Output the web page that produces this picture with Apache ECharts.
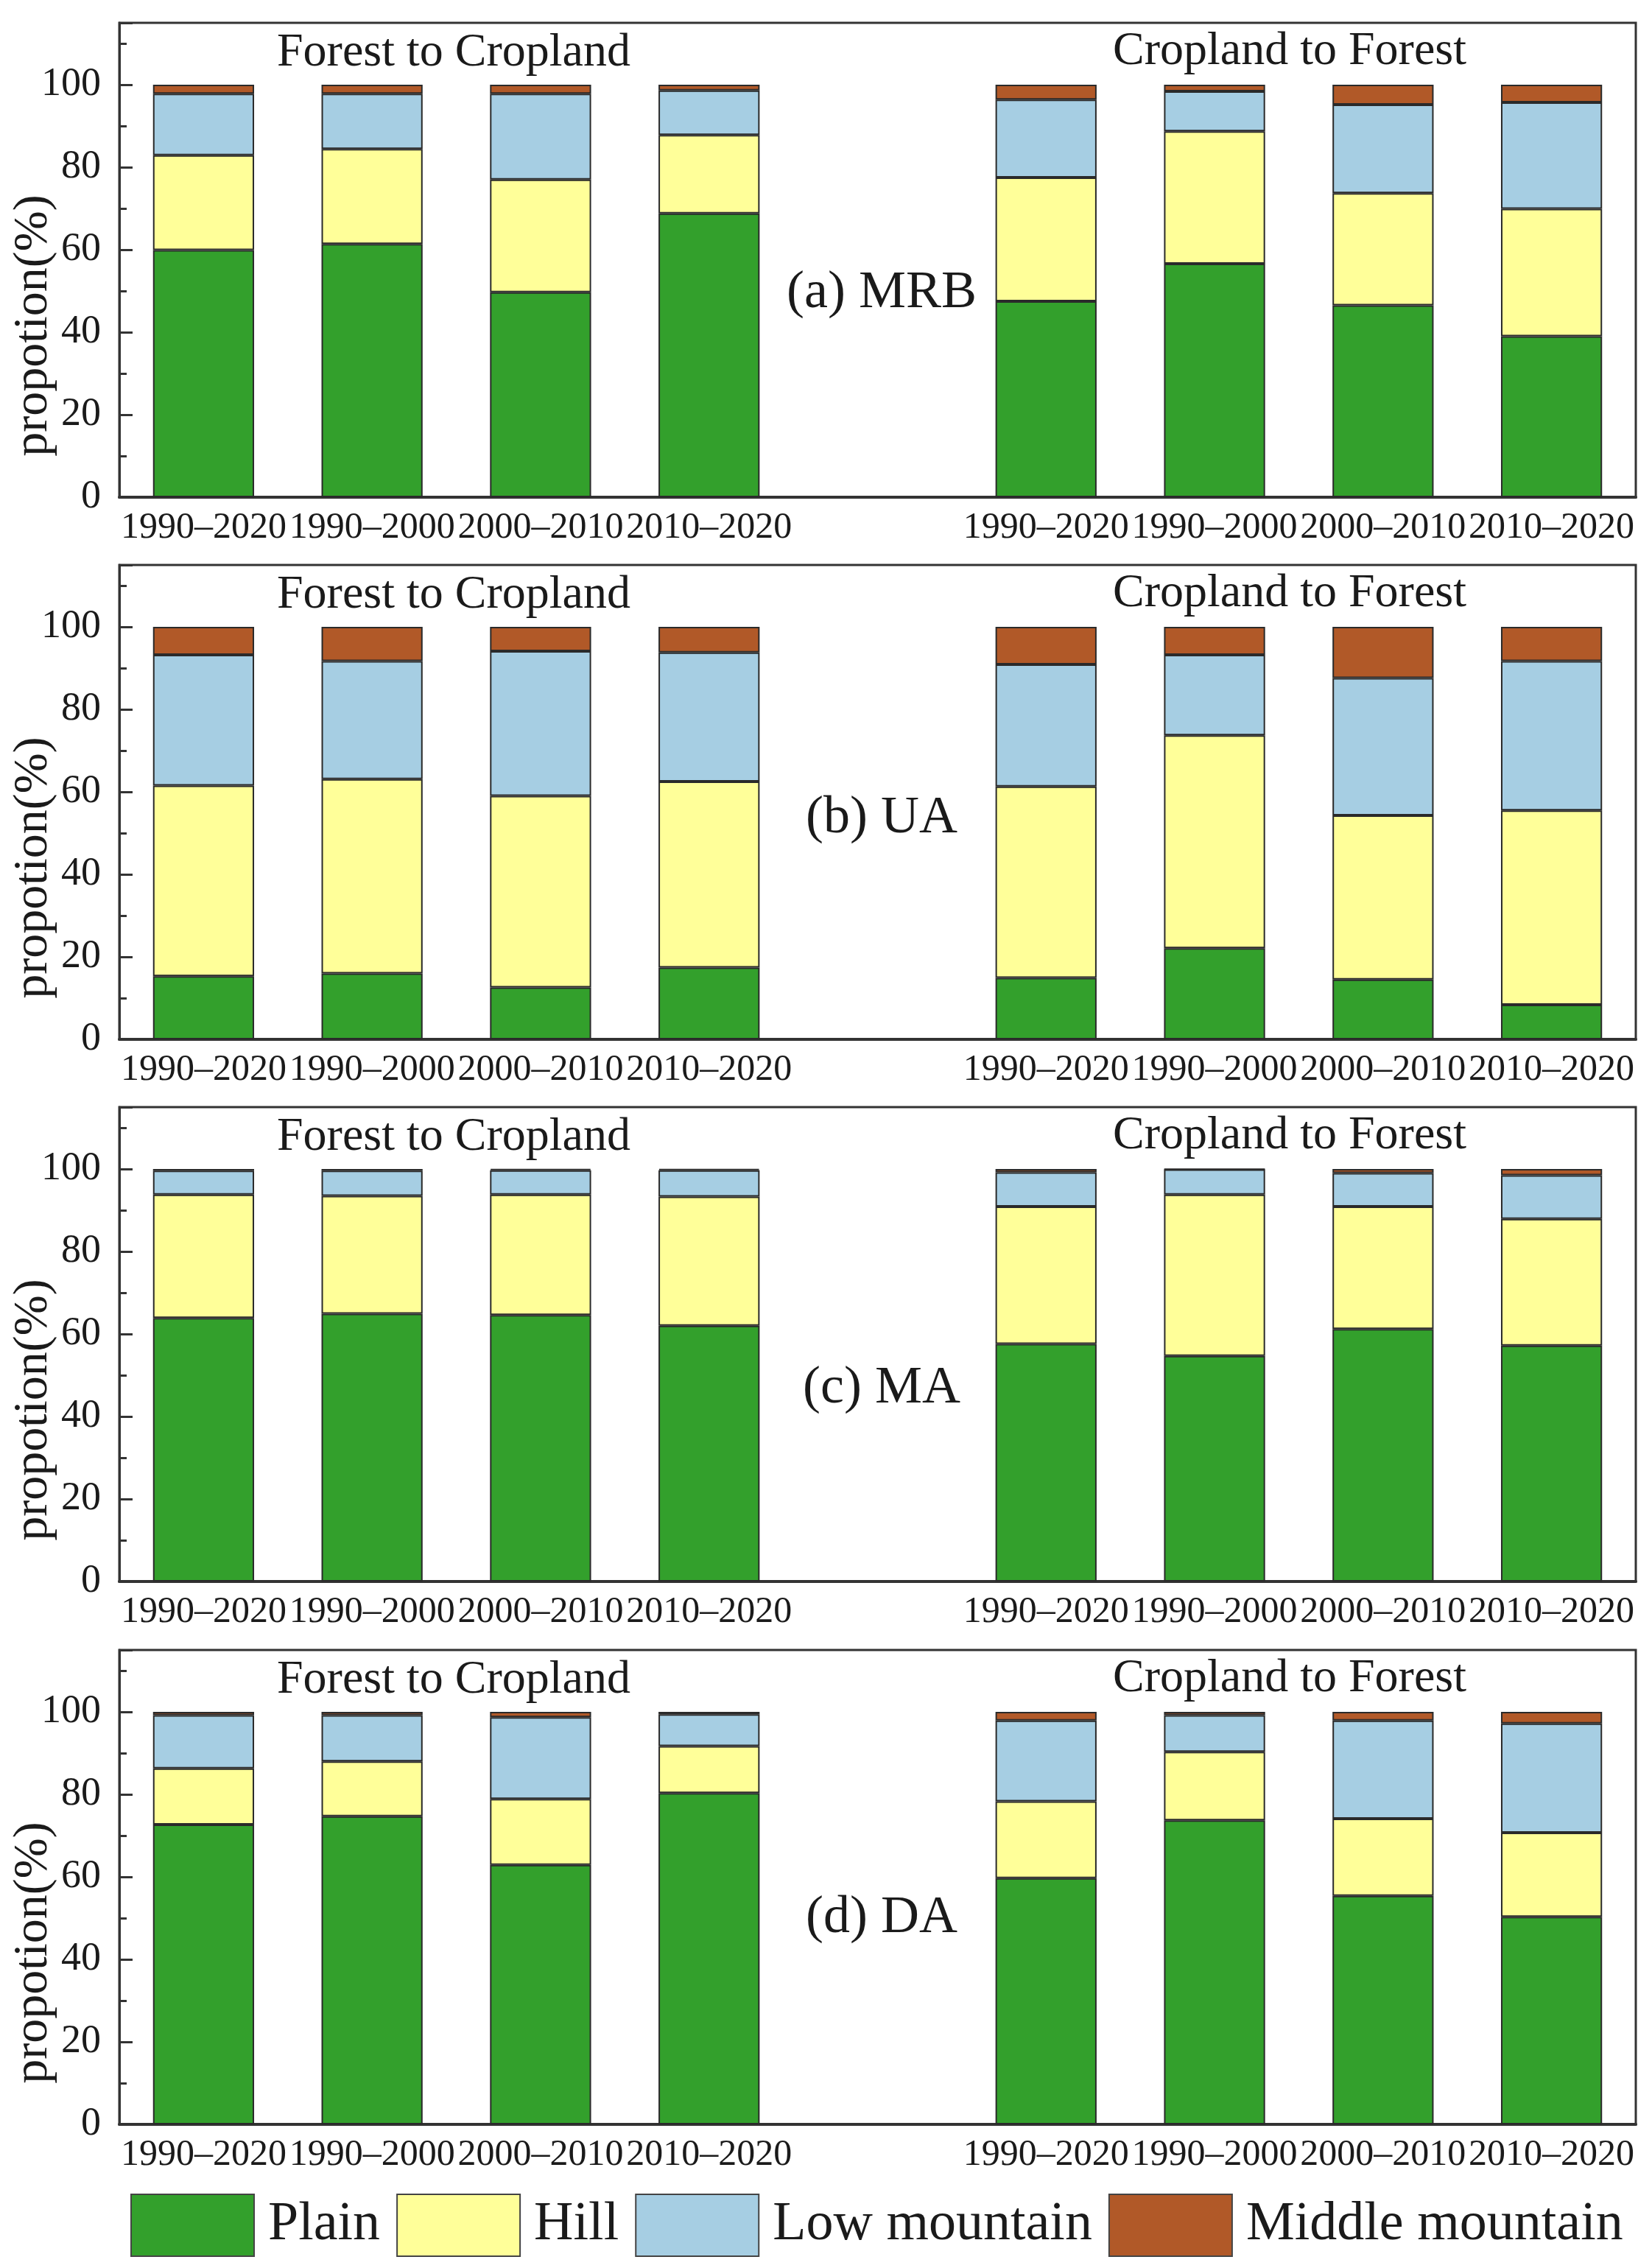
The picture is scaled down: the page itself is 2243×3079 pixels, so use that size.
<!DOCTYPE html>
<html>
<head>
<meta charset="utf-8">
<script src="https://cdn.jsdelivr.net/npm/echarts@6/dist/echarts.min.js"></script>
<style>
  html, body { margin: 0; padding: 0; background: #fff; }
  #main { width: 2243px; height: 3079px; }
</style>
</head>
<body>
<div id="main"></div>
<script>
// periods, left 4 = Forest to Cropland, right 4 = Cropland to Forest
var periods = ['1990–2020', '1990–2000', '2000–2010', '2010–2020'];
var classes = ['Plain', 'Hill', 'Low mountain', 'Middle mountain'];
var regions = ['(a) MRB', '(b) UA', '(c) MA', '(d) DA'];

// segment shares (%) per region, 8 bars each
var mrbPlain  = [59.9, 61.4, 49.7, 68.8, 47.5, 56.6, 46.5, 39.0];
var mrbHill   = [23.0, 23.0, 27.3, 19.0, 30.0, 32.1, 27.2, 30.9];
var mrbLow    = [14.9, 13.4, 20.8, 10.8, 18.9,  9.7, 21.5, 25.8];
var mrbMiddle = [ 2.2,  2.2,  2.2,  1.4,  3.6,  1.6,  4.8,  4.3];

var uaPlain  = [15.3, 16.0, 12.6, 17.4, 14.9, 22.1, 14.5,  8.4];
var uaHill   = [46.2, 47.1, 46.4, 45.1, 46.4, 51.6, 39.8, 47.1];
var uaLow    = [31.7, 28.6, 35.1, 31.3, 29.6, 19.5, 33.3, 36.2];
var uaMiddle = [ 6.8,  8.3,  5.9,  6.2,  9.1,  6.8, 12.4,  8.3];

var maPlain  = [63.9, 64.9, 64.6, 62.0, 57.6, 54.7, 61.2, 57.2];
var maHill   = [29.9, 28.6, 29.2, 31.3, 33.3, 39.1, 29.7, 30.7];
var maLow    = [ 5.8,  6.1,  5.9,  6.4,  8.3,  6.1,  8.1, 10.6];
var maMiddle = [ 0.4,  0.4,  0.3,  0.3,  0.8,  0.1,  1.0,  1.5];

var daPlain  = [72.7, 74.7, 62.9, 80.3, 59.7, 73.7, 55.4, 50.3];
var daHill   = [13.6, 13.3, 16.0, 11.4, 18.6, 16.6, 18.7, 20.4];
var daLow    = [12.9, 11.2, 19.8,  7.7, 19.6,  8.9, 23.8, 26.5];
var daMiddle = [ 0.8,  0.8,  1.3,  0.6,  2.1,  0.8,  2.1,  2.8];

var yTicks = [0, 20, 40, 60, 80, 100];

var regionData = [
  [mrbPlain, mrbHill, mrbLow, mrbMiddle],
  [uaPlain, uaHill, uaLow, uaMiddle],
  [maPlain, maHill, maLow, maMiddle],
  [daPlain, daHill, daLow, daMiddle]
];

var colors = ['#33a02c', '#ffff99', '#a6cee3', '#b15928'];
var font = 'Liberation Serif';
var ink = '#1a1a1a';

// empty slot between the two groups
var categories = periods.concat(['']).concat(periods);
function withGap(arr) {
  return arr.slice(0, 4).concat([null]).concat(arr.slice(4));
}

var gridTops = [31, 767, 1503, 2240];
var gridH = 644;

var grids = [], xAxes = [], yAxes = [], series = [], graphics = [];

gridTops.forEach(function (top, i) {
  grids.push({
    left: 162, top: top, width: 2059, height: gridH,
    containLabel: false, outerBoundsMode: 'none',
    show: true, borderColor: '#333', borderWidth: 3, backgroundColor: 'transparent'
  });
  xAxes.push({
    type: 'category', gridIndex: i, data: categories,
    axisLine: { lineStyle: { color: '#333', width: 4 } },
    axisTick: { show: false },
    axisLabel: { interval: 0, margin: 17, fontFamily: font, fontSize: 50, color: ink }
  });
  // main axis: labels + long ticks
  yAxes.push({
    type: 'value', gridIndex: i, min: 0, max: 115, interval: 20,
    name: 'propotion(%)', nameLocation: 'middle', nameGap: 83, nameMoveOverlap: false,
    nameTextStyle: { fontFamily: font, fontSize: 66, color: ink, padding: [0, 178, 0, 0] },
    axisLine: { show: true, lineStyle: { color: '#333', width: 3 } },
    axisTick: { show: true, inside: true, length: 18, lineStyle: { color: '#333', width: 3 } },
    axisLabel: {
      margin: 25, fontFamily: font, fontSize: 54, color: ink,
      formatter: function (v) { return yTicks.indexOf(v) >= 0 ? String(v) : ''; }
    },
    splitLine: { show: false }
  });
  // minor ticks every 10
  yAxes.push({
    type: 'value', gridIndex: i, min: 0, max: 115, interval: 10, position: 'left',
    axisLine: { show: false },
    axisTick: { show: true, inside: true, length: 10, lineStyle: { color: '#333', width: 3 } },
    axisLabel: { show: false },
    splitLine: { show: false }
  });

  regionData[i].forEach(function (vals, k) {
    series.push({
      name: classes[k], type: 'bar', stack: 'r' + i,
      xAxisIndex: i, yAxisIndex: i * 2,
      barWidth: '60%',
      itemStyle: { color: colors[k], borderColor: '#2a2a2a', borderWidth: 2 },
      data: withGap(vals)
    });
  });

  graphics.push({
    type: 'text',
    style: { text: 'Forest to Cropland', x: 616, y: top + 41, align: 'center', verticalAlign: 'middle',
             font: '64px "' + font + '"', fill: ink }
  });
  graphics.push({
    type: 'text',
    style: { text: 'Cropland to Forest', x: 1751, y: top + 39, align: 'center', verticalAlign: 'middle',
             font: '64px "' + font + '"', fill: ink }
  });
});

var labelY = [398, 1111, 1885, 2604];
regions.forEach(function (r, i) {
  graphics.push({
    type: 'text',
    style: { text: r, x: 1197, y: labelY[i], align: 'center', verticalAlign: 'middle',
             font: '72px "' + font + '"', fill: ink }
  });
});

var myChart = echarts.init(document.getElementById('main'));
var option = {
  backgroundColor: '#fff',
  animation: false,
  grid: grids,
  xAxis: xAxes,
  yAxis: yAxes,
  legend: {
    data: classes, left: 172, top: 2973,
    icon: 'rect', itemWidth: 167, itemHeight: 84, itemGap: 22,
    itemStyle: { borderColor: '#444', borderWidth: 2 },
    textStyle: { fontFamily: font, fontSize: 74, color: ink, padding: [0, 0, 0, 14] }
  },
  graphic: graphics,
  series: series
};
myChart.setOption(option);
</script>
</body>
</html>
